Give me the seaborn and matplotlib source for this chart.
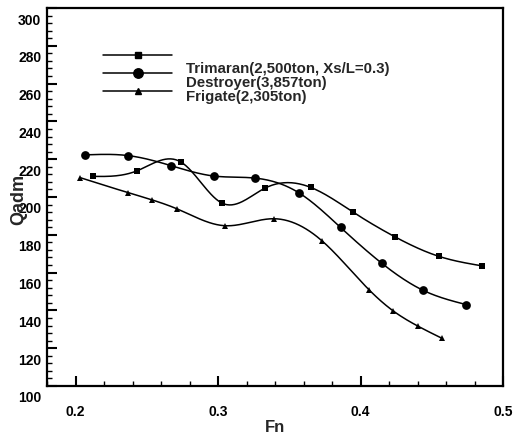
import numpy as np
import pandas as pd
import matplotlib
matplotlib.use("Agg")
import matplotlib.pyplot as plt
from matplotlib.lines import Line2D
from matplotlib.ticker import MultipleLocator, FixedLocator
from matplotlib.transforms import ScaledTranslation
import seaborn as sns

# ---- data ----
tri_fn = [0.212, 0.243, 0.274, 0.303, 0.333, 0.365, 0.395, 0.424, 0.455, 0.485]
tri_q = [210.9, 213.8, 218.5, 196.7, 204.7, 205.1, 191.9, 179.0, 168.6, 163.6]

des_fn = [0.207, 0.237, 0.267, 0.297, 0.326, 0.357, 0.386, 0.415, 0.444, 0.474]
des_q = [222.3, 221.9, 216.6, 211.1, 210.0, 202.1, 183.9, 164.9, 150.6, 143.1]

fri_fn = [0.203, 0.237, 0.254, 0.271, 0.305, 0.339, 0.373, 0.406, 0.423, 0.440, 0.457]
fri_q = [210.3, 202.3, 198.4, 193.8, 184.8, 188.5, 176.8, 150.9, 139.7, 131.8, 125.3]

labels = ["Trimaran(2,500ton, Xs/L=0.3)", "Destroyer(3,857ton)", "Frigate(2,305ton)"]
x_ticks = [0.2, 0.3, 0.4, 0.5]
y_ticks = list(range(100, 301, 20))

sns.set_theme(style="white")
plt.rcParams["font.family"] = ["Liberation Sans", "DejaVu Sans"]
plt.rcParams["font.weight"] = "bold"


def spline_curve(x, y, n=300):
    """Natural cubic spline through the points, for drawing a smooth line."""
    x = np.asarray(x, float)
    y = np.asarray(y, float)
    k = len(x)
    h = np.diff(x)
    A = np.zeros((k, k))
    b = np.zeros(k)
    A[0, 0] = 1
    A[-1, -1] = 1
    for i in range(1, k - 1):
        A[i, i - 1] = h[i - 1]
        A[i, i] = 2 * (h[i - 1] + h[i])
        A[i, i + 1] = h[i]
        b[i] = 6 * ((y[i + 1] - y[i]) / h[i] - (y[i] - y[i - 1]) / h[i - 1])
    M = np.linalg.solve(A, b)
    xs = np.linspace(x[0], x[-1], n)
    idx = np.clip(np.searchsorted(x, xs) - 1, 0, k - 2)
    x0, x1 = x[idx], x[idx + 1]
    hh = x1 - x0
    t0 = x1 - xs
    t1 = xs - x0
    ys = (M[idx] * t0 ** 3 / (6 * hh) + M[idx + 1] * t1 ** 3 / (6 * hh)
          + (y[idx] / hh - M[idx] * hh / 6) * t0
          + (y[idx + 1] / hh - M[idx + 1] * hh / 6) * t1)
    return xs, ys


fig = plt.figure(figsize=(5.32, 4.35), dpi=100)
ax = fig.add_axes([47 / 532, 1 - 387 / 435, 456 / 532, 378 / 435])

series = [
    (tri_fn, tri_q, "s", 4.8),
    (des_fn, des_q, "o", 6.3),
    (fri_fn, fri_q, "^", 4.8),
]
for fn, q, mk, ms in series:
    xs, ys = spline_curve(fn, q)
    sns.lineplot(x=xs, y=ys, ax=ax, color="black", linewidth=1.1,
                 estimator=None, sort=False, legend=False)
    df = pd.DataFrame({"Fn": fn, "Q": q})
    ax.plot(df["Fn"], df["Q"], linestyle="none", marker=mk, markersize=ms,
            color="black", markeredgewidth=0)

ax.set_xlim(0.18, 0.5)
ax.set_ylim(100, 300)
ax.xaxis.set_major_locator(FixedLocator(x_ticks))
ax.xaxis.set_minor_locator(MultipleLocator(0.02))
ax.yaxis.set_major_locator(FixedLocator(y_ticks))
ax.yaxis.set_minor_locator(MultipleLocator(4))
ax.set_xticklabels([str(v) for v in x_ticks])
ax.set_yticklabels([str(v) for v in y_ticks])

ax.tick_params(axis="both", which="both", direction="in", colors="black",
               bottom=True, left=True, top=False, right=False)
ax.tick_params(axis="both", which="major", length=7, width=1.5, labelsize=10)
ax.tick_params(axis="both", which="minor", length=3.5, width=1.0)
ax.tick_params(axis="x", which="major", pad=13)
ax.tick_params(axis="y", which="major", pad=4)

for sp in ax.spines.values():
    sp.set_color("black")
    sp.set_linewidth(1.6)

# y tick labels sit below their ticks in the reference
shift = ScaledTranslation(0, -0.10, fig.dpi_scale_trans)
for lab in ax.get_yticklabels():
    lab.set_transform(lab.get_transform() + shift)
    lab.set_fontweight("bold")
for lab in ax.get_xticklabels():
    lab.set_fontweight("bold")

ax.set_xlabel("Fn", fontsize=12, fontweight="bold")
ax.set_ylabel("Qadm", fontsize=13, fontweight="bold")
ax.xaxis.set_label_coords(0.5, -0.088)
ax.yaxis.set_label_coords(-0.044, 0.495)

handles = [
    Line2D([], [], color="black", lw=1.1, marker="s", markersize=4.8),
    Line2D([], [], color="black", lw=1.1, marker="o", markersize=6.8),
    Line2D([], [], color="black", lw=1.1, marker="^", markersize=4.8),
]
leg = ax.legend(handles, labels, loc="upper left", bbox_to_anchor=(0.123, 0.89),
                frameon=False, numpoints=1, handlelength=4.6, handletextpad=0.9,
                labelspacing=0.27, borderpad=0, borderaxespad=0,
                prop={"size": 10.8, "weight": "bold"})
for t, dy in zip(leg.get_texts(), [0.11, 0.074, 0.034]):
    t.set_transform(t.get_transform() + ScaledTranslation(0, -dy, fig.dpi_scale_trans))

fig.savefig("out.png", dpi=100)
